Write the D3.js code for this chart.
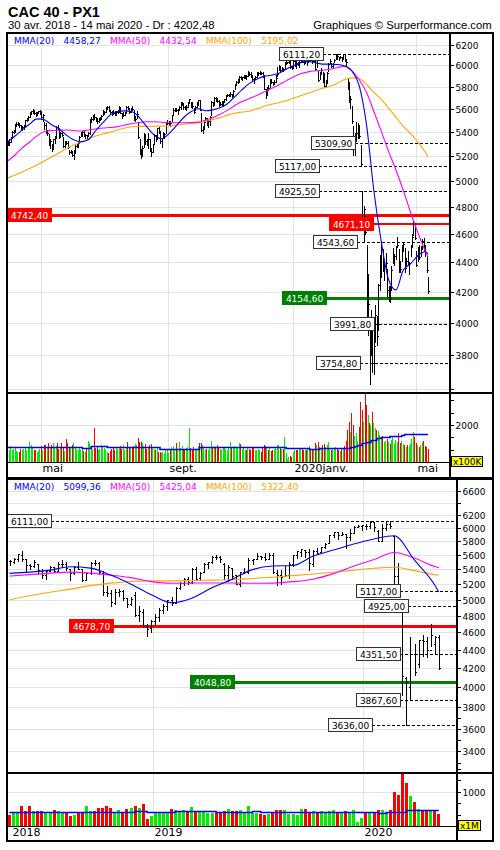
<!DOCTYPE html>
<html lang="fr">
<head>
<meta charset="UTF-8" />
<title>CAC 40 - PX1</title>
<style>
  body { margin: 0; background: #fff; }
  svg { display: block; }
  svg text { font-family: "DejaVu Sans", Verdana, sans-serif; font-size: 9px; }
  svg text.title { font-family: "Liberation Sans", Arial, sans-serif; font-weight: bold; font-size: 14.5px; }
  svg text.sub { font-family: "Liberation Sans", Arial, sans-serif; font-size: 11.3px; }
  svg text.date { font-size: 11px; }
</style>
</head>
<body>
<div id="chart"></div>
<script src="https://cdn.jsdelivr.net/npm/d3@7"></script>
<script>
// ---------- data : daily (top chart) ----------
var holidays = ["2019-04-19","2019-04-22","2019-05-01","2019-12-25","2019-12-26","2020-01-01","2020-04-10","2020-04-13","2020-05-01"];
var lastClose = 4202.48;

var dClose = [5313,5319,5351,
5405,5406,5469,5474,5476,5463,5436,5443,5445,5502,5508,5530,5564,5580,5592,5570,5560,5569,5580,5586,
5528,5548,5465,5395,5398,5313,5327,5262,5341,5352,5448,5438,5358,5392,5379,5281,5317,5312,5272,5231,5240,5208,
5241,5286,5292,5312,5364,5375,5406,5374,5375,5368,5390,5510,5518,5535,5528,5521,5500,5514,5520,5539,
5567,5576,5618,5620,5594,5579,5573,5567,5553,5572,5577,5618,5571,5552,5552,5565,5618,5605,5578,5610,5601,5512,5518,
5557,5359,5241,5234,5267,5388,5327,5310,5345,5251,5237,5300,5373,5344,5435,5406,5327,5351,5386,5386,5480,5480,
5494,5480,5547,5594,5603,5589,5593,5618,5641,5655,5620,5617,5621,5659,5690,5630,5628,5578,5620,5640,5678,
5597,5422,5438,5488,5521,5471,5499,5532,5665,5643,5702,5696,5673,5636,5648,5657,5661,5688,5722,5729,5730,5734,5729,
5762,5816,5849,5855,5892,5889,5891,5906,5907,5901,5939,5923,5910,5878,5871,5893,5926,5926,5937,5930,5905,
5786,5727,5798,5790,5871,5846,5833,5848,5885,5919,5991,5960,5973,5969,6021,6030,6030,6037,5982,5978,
6042,6044,6013,6012,6032,6044,6037,6036,6040,6032,6050,6101,6079,6046,6054,5971,6024,5863,5925,5954,5872,5806,
5832,5927,6016,6039,5999,6016,6055,6105,6094,6069,6085,6057,6111,6063,6030,5792,5679,5688,5495,5310,
5333,5393,5466,5370,5139,4708,4782,4611,4044,4118,3881,3991,3755,3855,4049,3914,4243,4432,4544,4352,4378,4396,
4208,4221,4155,4346,4438,4442,4507,4523,4353,4350,4499,4529,4357,4411,4393,4393,4505,4578,4671,4572,
4378,4483,4433,4501,4550,4490,4472,4345,4202];

var dHigh = [5330,5340,5362,
5412,5418,5475,5484,5488,5480,5465,5450,5460,5508,5520,5538,5572,5584,5600,5595,5578,5575,5588,5590,
5575,5555,5490,5480,5420,5385,5345,5300,5345,5365,5455,5460,5420,5400,5410,5360,5330,5325,5330,5250,5255,5245,
5250,5290,5310,5320,5370,5400,5415,5410,5385,5380,5400,5515,5530,5548,5555,5530,5525,5525,5535,5545,
5590,5585,5622,5628,5625,5595,5585,5595,5580,5580,5590,5625,5615,5570,5575,5575,5625,5630,5615,5615,5625,5590,5540,
5585,5490,5340,5260,5285,5390,5380,5345,5390,5345,5265,5305,5385,5380,5440,5445,5415,5355,5405,5395,5485,5505,
5500,5498,5550,5610,5610,5615,5600,5625,5660,5665,5650,5630,5635,5665,5695,5665,5660,5615,5630,5660,5683,
5685,5570,5455,5495,5530,5525,5505,5540,5670,5665,5710,5710,5700,5685,5665,5675,5670,5695,5725,5740,5740,5750,5740,
5770,5830,5855,5870,5900,5900,5895,5915,5915,5910,5945,5942,5935,5910,5880,5900,5935,5935,5945,5940,5935,
5915,5780,5800,5815,5875,5865,5850,5860,5910,5985,6003,5995,5985,5980,6030,6040,6035,6050,6045,5995,
6050,6050,6030,6035,6040,6060,6065,6045,6055,6045,6060,6105,6100,6080,6075,6045,6045,5945,5935,5975,5935,5925,
5865,5935,6025,6060,6025,6020,6065,6110,6108,6085,6095,6080,6112,6110,6060,5880,5845,5720,5625,5450,
5390,5490,5480,5460,5290,4925,4810,4735,4520,4320,4000,4080,3980,3950,4110,4040,4250,4450,4550,4490,4400,4465,
4350,4240,4240,4370,4500,4460,4510,4575,4490,4410,4520,4545,4500,4430,4480,4400,4520,4600,4700,4680,
4475,4505,4520,4515,4560,4570,4520,4440,4300];

var dLow = [5290,5296,5315,
5352,5390,5405,5455,5462,5448,5425,5420,5430,5448,5496,5505,5530,5555,5570,5560,5540,5548,5565,5560,
5522,5500,5430,5390,5375,5290,5265,5245,5270,5310,5360,5420,5350,5360,5370,5275,5280,5300,5265,5215,5225,5200,
5180,5230,5275,5280,5315,5365,5370,5365,5350,5345,5365,5385,5490,5505,5515,5500,5480,5490,5505,5515,
5545,5555,5575,5605,5580,5565,5545,5560,5545,5550,5565,5575,5565,5525,5540,5545,5565,5600,5570,5575,5590,5505,5500,
5520,5350,5215,5185,5200,5275,5305,5290,5270,5245,5200,5235,5310,5330,5350,5395,5310,5280,5350,5350,5395,5470,
5465,5450,5500,5560,5585,5580,5560,5590,5600,5635,5605,5600,5595,5620,5660,5620,5615,5570,5590,5620,5640,
5590,5415,5395,5430,5490,5460,5445,5460,5550,5630,5640,5670,5660,5625,5640,5640,5630,5660,5680,5715,5715,5720,5705,
5715,5780,5820,5840,5850,5870,5860,5880,5880,5870,5905,5915,5895,5860,5835,5870,5895,5910,5920,5920,5890,
5780,5700,5735,5775,5800,5840,5815,5825,5845,5900,5960,5945,5955,5950,5975,6010,6020,6025,5975,5965,
5985,5995,5980,6005,5985,6030,6030,6015,6020,6005,6030,6060,6065,6020,6040,5960,5985,5855,5870,5920,5845,5800,
5805,5850,5945,6020,5985,5975,6030,6065,6065,6055,6070,6040,6065,6040,6000,5780,5665,5610,5480,5210,
5210,5330,5350,5350,5117,4700,4550,4600,4040,3920,3632,3800,3700,3690,3880,3860,3950,4210,4300,4340,4280,4350,
4165,4140,4130,4210,4395,4380,4420,4505,4330,4330,4410,4480,4330,4375,4380,4320,4445,4515,4590,4560,
4370,4410,4420,4440,4495,4480,4440,4330,4190];

// volume, x100K
var dVol = [1080,1010,1150,
980,1020,1100,950,900,930,1050,990,1040,1120,1000,1090,1330,1180,1060,1000,980,920,960,1050,
1150,1000,1180,1200,1090,1260,1120,1210,1260,1080,1150,1290,1030,1120,1290,1100,940,1435,1260,1120,1060,1180,
1260,1100,1050,980,1090,1010,1080,960,930,1040,1375,1290,1150,1020,1890,1060,1110,990,1040,1180,
1120,1090,1010,920,880,960,1040,1080,990,1110,1050,1130,1160,1040,1210,1000,1090,1330,1120,1060,1100,1160,1240,
1180,1490,1330,1330,1290,1140,1220,1050,1100,1180,1220,1120,1020,980,1090,900,930,880,920,840,1010,1000,
860,1040,1110,1160,980,1260,1040,1300,1090,1160,1050,990,1070,1120,1890,1080,1000,1100,1050,1020,1140,
1290,1260,1200,1090,1010,1050,1000,1060,1375,1090,1150,1130,1190,1060,1030,1000,1080,1110,1040,1000,1120,1330,1070,
1090,1150,1120,1080,1290,1220,1050,1080,1010,1000,1070,1040,990,1080,1100,980,1000,1020,980,900,1060,
1180,1150,1080,1010,1060,950,1000,1040,1120,1200,1180,1060,1020,1030,1500,880,620,700,760,690,
900,980,1010,1000,1050,1020,1040,980,1010,1000,1090,1160,1030,1010,1040,1260,1200,1320,1120,1050,1190,1250,
1100,1180,1320,1050,1000,1040,1060,1100,1030,1010,950,1020,1070,1150,1350,1800,2130,1700,2500,2000,
1550,1660,1350,1930,2940,2600,2130,3280,2800,2400,2070,2000,2540,2070,1870,1800,1750,1600,1500,1550,1300,1350,
1420,1300,1250,1380,1530,1250,1400,1330,1660,1270,1350,1250,1180,1130,1200,1150,1230,1420,1730,1530,
1260,1190,1100,1190,1330,1355,1150,1120,1020];

var volAvg1Dates = ["2019-03-27","2019-06-11","2019-06-19","2019-07-04","2019-08-23","2019-10-01","2019-12-23","2020-01-17","2020-01-28","2020-02-26","2020-03-02","2020-03-04","2020-03-09","2020-03-12","2020-03-17","2020-03-23","2020-03-26","2020-03-30","2020-04-03","2020-04-17","2020-04-21","2020-05-14"];
var volAvg1 = [1126,1086,1153,1099,1045,1099,1059,1032,1072,1099,1150,1193,1260,1327,1400,1462,1500,1529,1569,1596,1636,1636];

// moving averages read every 5 sessions (+ last session)
var ma20d = [5320,5368,5420,5471,5515,5507,5464,5428,5377,5336,
5319,5336,5413,5482,5550,5580,5585,5577,5525,5447,
5377,5344,5386,5455,5525,5577,5604,5586,5594,5612,
5648,5711,5775,5833,5870,5898,5908,5927,5964,5997,
6027,6039,6027,6013,6013,6010,5996,5948,5810,5461,
4922,4547,4281,4211,4344,4388,4444,4472,4458];
var ma50d = [5161,5210,5268,5318,5369,5407,5415,5418,5420,5415,
5411,5420,5428,5437,5441,5448,5462,5475,5483,5490,
5490,5486,5482,5482,5482,5483,5487,5504,5525,5555,
5590,5633,5669,5696,5723,5755,5787,5819,5856,5893,
5922,5940,5950,5955,5964,5979,5993,5950,5866,5750,
5580,5410,5240,5090,4930,4760,4610,4478,4433];
var ma100d = [5024,5048,5072,5100,5129,5161,5194,5227,5264,5293,
5318,5343,5369,5385,5403,5420,5437,5447,5450,5451,
5452,5453,5454,5462,5470,5477,5481,5492,5509,5526,
5548,5565,5575,5582,5604,5626,5644,5657,5675,5698,
5720,5743,5765,5788,5806,5833,5869,5884,5878,5823,
5751,5689,5609,5530,5452,5390,5318,5235,5195];
var legend1 = [4458.27, 4432.54, 5195.02];

var levels1 = [6111.20, 5309.90, 5117.00, 4925.50, 4742.40, 4671.10, 4543.60, 4154.60, 3991.80, 3754.80];
var levels1At = ["2020-01-29","2020-02-28","2020-01-24","2020-01-24",null,"2020-03-17","2020-03-02","2020-01-31","2020-03-18","2020-03-04"];
var levels1Kind = ["dash","dash","dash","dash","red","redThin","dash","green","dash","dash"];

var priceTicks1 = [3600,3800,4000,4200,4400,4600,4800,5000,5200,5400,5600,5800,6000,6200];
var priceNoLabel1 = [3600];
var volTicks1 = [1000,1500,2000,2500,3000];
var monthDays = ["2019-05-02","2019-09-02","2020-01-02","2020-05-04"];
var monthText = ["mai","sept.","2020janv.","mai"];

// ---------- data : weekly (bottom chart) ----------
var wOpen = [5520,5510,5545,5610,5540,5460,5450,5470,5385,5320,5380,5430,5380,5470,5480,5400,5350,5440,5400,5260,
5350,5490,5490,5350,5100,5090,4960,5100,5110,5020,4950,5060,4810,4850,4680,4650,4740,4780,4870,4920,
4990,4960,5150,5220,5270,5230,5400,5280,5360,5475,5500,5580,5570,5480,5320,5420,5320,5200,5370,5370,
5530,5550,5590,5570,5550,5610,5350,5330,5310,5320,5480,5600,5650,5680,5640,5480,5660,5640,5720,5770,
5890,5935,5890,5905,5870,5920,6020,6040,6040,6040,6100,5960,5810,6000,6070,5880,5310,4900,4100,4000,
4350,4240,4510,4500,4400,4470,4550];
var wHigh = [5535,5560,5620,5657,5545,5480,5530,5475,5400,5390,5450,5440,5510,5525,5510,5410,5445,5500,5405,5360,
5500,5530,5510,5380,5180,5120,5140,5140,5120,5020,5040,5100,4915,4880,4695,4750,4820,4890,4940,5000,
5040,5160,5225,5280,5300,5420,5430,5365,5490,5510,5590,5600,5590,5490,5460,5420,5330,5370,5415,5555,
5545,5628,5595,5625,5630,5625,5390,5390,5445,5505,5610,5665,5695,5665,5685,5670,5710,5725,5770,5900,
5945,5942,5945,5915,5985,6030,6050,6050,6065,6105,6100,5975,6060,6110,6111,5880,5490,4925,4110,4550,
4465,4510,4575,4545,4700,4560,4570];
var wLow = [5460,5490,5520,5520,5380,5410,5430,5340,5280,5270,5380,5360,5380,5440,5390,5260,5340,5400,5250,5260,
5340,5460,5340,5060,5050,4915,4950,5050,4990,4910,4930,4800,4740,4670,4555,4600,4700,4740,4830,4870,
4930,4960,5140,5190,5210,5220,5260,5260,5360,5420,5495,5540,5500,5265,5245,5275,5200,5180,5345,5345,
5480,5545,5545,5525,5545,5350,5185,5200,5310,5280,5450,5560,5595,5570,5395,5445,5625,5630,5705,5780,
5860,5835,5890,5700,5815,5945,6010,5965,5980,6005,5960,5800,5805,5975,6000,5210,5117,3920,3636,3868,
4130,4210,4330,4320,4445,4370,4190];
var wClose = [5516,5542,5614,5542,5465,5450,5502,5388,5324,5375,5429,5382,5474,5478,5415,5345,5433,5406,5253,5352,
5494,5493,5359,5095,5084,4967,5102,5107,5025,4947,5003,4813,4853,4680,4640,4737,4781,4876,4925,4990,
4961,5153,5215,5265,5231,5405,5269,5351,5476,5502,5580,5569,5548,5327,5438,5317,5208,5364,5368,5528,
5539,5594,5572,5552,5610,5359,5327,5300,5327,5480,5603,5655,5690,5640,5488,5665,5636,5722,5762,5889,
5939,5893,5905,5871,5919,6021,6037,6044,6037,6101,6024,5806,5999,6069,6030,5310,5139,4118,4049,4352,
4155,4507,4499,4393,4572,4550,4202];
// volume, x1M
var wVol = [493,565,565,689,580,689,580,580,580,552,552,602,580,552,552,478,493,552,552,689,
580,580,652,652,689,652,565,602,552,630,652,700,652,733,406,478,565,565,552,552,
630,602,565,602,565,660,565,565,565,530,530,530,530,580,630,580,580,602,530,689,
530,530,515,493,515,545,602,602,602,515,515,493,630,630,552,580,552,580,552,580,
602,552,530,580,530,602,348,420,530,545,530,602,602,565,602,1000,928,1400,1196,913,
783,630,602,580,580,580,515];
var volAvg2Weeks = ["2018-04-30","2018-12-03","2018-12-24","2019-02-11","2019-04-22","2019-06-24","2019-07-08","2020-01-27","2020-02-10","2020-03-16","2020-05-11"];
var volAvg2 = [552,580,552,580,552,580,552,530,565,602,602];

// moving averages read every 5 weeks (+ last week)
var ma20w = [5347,5363,5391,5437,5419,5323,5201,5064,4962,5019,5155,5268,5398,5447,5454,5588,5674,5762,5836,5885,5530,5190,5099];
var ma50w = [5309,5329,5350,5363,5350,5323,5289,5235,5213,5216,5218,5218,5213,5216,5235,5268,5343,5447,5538,5638,5559,5440,5425];
var ma100w = [5000,5051,5096,5136,5182,5216,5238,5245,5246,5251,5256,5261,5278,5295,5316,5339,5363,5391,5416,5430,5384,5329,5322];
var legend2 = [5099.36, 5425.04, 5322.40];

var levels2 = [6111.00, 5117.00, 4925.00, 4678.70, 4351.50, 4048.80, 3867.60, 3636.00];
var levels2At = [null,"2020-03-02","2020-03-16","2018-10-22","2020-03-02","2019-05-20","2020-03-02","2020-01-13"];
var levels2Kind = ["dash","dash","dash","red","dash","green","dash","dash"];

var priceTicks2 = [3400,3600,3800,4000,4200,4400,4600,4800,5000,5200,5400,5600,5800,6000,6200,6400,6600];
var priceNoLabel2 = [6400];
var priceMinor2 = [3300,3500,3700];
var volTicks2 = [500,750,1000,1250,1500];
var yearWeeks = ["2018-04-30","2018-12-31","2019-12-30"];
var yearText = ["2018","2019","2020"];

// ---------- calendars ----------
var fmtDay = d3.timeFormat("%Y-%m-%d");
var days = d3.timeDay.range(new Date(2019, 2, 27), new Date(2020, 4, 15))
  .filter(function(d) { var w = d.getDay(); return w > 0 && w < 6; })
  .map(fmtDay)
  .filter(function(s) { return holidays.indexOf(s) < 0; });
var weeks = d3.timeMonday.range(new Date(2018, 3, 30), new Date(2020, 4, 12)).map(fmtDay);

// ---------- layout ----------
var cBlue = "#0000ff", cMag = "#ff00ff", cOrange = "#ffa500";
var cUp = "#00ee00", cDown = "#ff0000", cRed = "#ff0000", cGreen = "#008000", cGrid = "#e3e3e3";
var PL = 7, FR = 493;

var svg = d3.select("#chart").append("svg").attr("width", 500).attr("height", 850);
var defs = svg.append("defs");

function frNum(v) { return d3.format(".2f")(v).replace(".", ","); }

svg.append("text").attr("class", "title").attr("x", 8).attr("y", 17.3).text("CAC 40 - PX1");
svg.append("text").attr("class", "sub").attr("x", 8).attr("y", 29.3)
  .text("30 avr. 2018 - 14 mai 2020 - Dr : " + frNum(lastClose));
svg.append("text").attr("class", "sub").attr("x", 491.7).attr("y", 29.3).attr("text-anchor", "end")
  .text("Graphiques \u00a9 Surperformance.com");

function drawPanel(o) {
  var x = o.x, y = o.y, yv = o.yv, step = x.step();

  defs.append("clipPath").attr("id", o.clipId).append("rect")
    .attr("x", PL).attr("y", o.top).attr("width", o.axisX - PL).attr("height", o.priceBottom - o.top);

  // grid
  var grid = svg.append("g").attr("stroke", cGrid).attr("shape-rendering", "crispEdges");
  o.ticks.forEach(function(t) {
    var yy = Math.round(y(t)) + 0.5;
    if (yy < o.top + 2 || yy > o.priceBottom - 1) return;
    grid.append("line").attr("x1", PL).attr("x2", o.axisX).attr("y1", yy).attr("y2", yy);
  });
  var yg = Math.round(yv(o.volLabel)) + 0.5;
  grid.append("line").attr("x1", PL).attr("x2", o.axisX).attr("y1", yg).attr("y2", yg);
  o.gridKeys.forEach(function(k) {
    var xx = Math.round(x(k) + o.gridShift * step) + 0.5;
    grid.append("line").attr("x1", xx).attr("x2", xx).attr("y1", o.top).attr("y2", o.volBottom);
  });

  // level boxes (measure first)
  var meas = svg.append("text").text("");
  var boxes = o.levels.map(function(v, i) {
    var txt = frNum(v);
    meas.text(txt);
    var bw = Math.round(meas.node().getComputedTextLength()) + 7;
    var a = o.levelsAt[i];
    var bx = a ? Math.round(x(a)) + 2 - bw : PL;
    return {x: bx, w: bw, y: Math.round(y(v)), txt: txt, kind: o.levelsKind[i]};
  });
  meas.remove();

  var lv = svg.append("g").attr("shape-rendering", "crispEdges");
  boxes.forEach(function(b) {
    var ln = lv.append("line").attr("x1", b.x + b.w).attr("x2", o.axisX);
    if (b.kind === "dash") {
      ln.attr("y1", b.y + 0.5).attr("y2", b.y + 0.5).attr("stroke", "#000").attr("stroke-dasharray", "3,2");
    } else if (b.kind === "redThin") {
      ln.attr("y1", b.y).attr("y2", b.y).attr("stroke", cRed).attr("stroke-width", 2);
    } else {
      ln.attr("y1", b.y + 0.5).attr("y2", b.y + 0.5).attr("stroke", b.kind === "green" ? cGreen : cRed).attr("stroke-width", 3);
    }
  });

  // OHLC bars
  var bars = svg.append("g").attr("clip-path", "url(#" + o.clipId + ")")
    .attr("stroke", "#000").attr("shape-rendering", "crispEdges");
  o.keys.forEach(function(k, i) {
    var xx = Math.round(x(k)) + 0.5;
    bars.append("line").attr("x1", xx).attr("x2", xx)
      .attr("y1", Math.round(y(o.high[i]))).attr("y2", Math.round(y(o.low[i])) + 1);
    var yc = Math.round(y(o.close[i])) + 0.5;
    bars.append("line").attr("x1", xx).attr("x2", xx + o.tick).attr("y1", yc).attr("y2", yc);
    if (o.open) {
      var yo = Math.round(y(o.open[i])) + 0.5;
      bars.append("line").attr("x1", xx - o.tick).attr("x2", xx).attr("y1", yo).attr("y2", yo);
    }
  });

  // moving averages
  var mg = svg.append("g").attr("clip-path", "url(#" + o.clipId + ")").attr("fill", "none");
  [[o.ma100, cOrange], [o.ma50, cMag], [o.ma20, cBlue]].forEach(function(m) {
    var line = d3.line()
      .x(function(d, j) { return x(o.keys[o.maAt[j]]); })
      .y(function(d) { return y(d); })
      .curve(d3.curveMonotoneX);
    mg.append("path").attr("d", line(m[0])).attr("stroke", m[1]).attr("stroke-width", 1.1);
  });

  // volume
  var vb = svg.append("g").attr("shape-rendering", "crispEdges");
  o.keys.forEach(function(k, i) {
    var ref = i === 0 ? (o.open ? o.open[0] : o.close[0]) : o.close[i - 1];
    var top = Math.round(yv(o.vol[i]));
    vb.append("rect")
      .attr("x", Math.round(x(k) - o.volW / 2 + 0.01)).attr("y", top)
      .attr("width", o.volW).attr("height", Math.max(0, o.volBottom - top))
      .attr("fill", o.close[i] >= ref ? cUp : cDown);
  });
  var va = d3.line()
    .x(function(d, j) { return x(o.volAvgKeys[j]); })
    .y(function(d) { return Math.round(yv(d)) + 0.5; })
    .curve(d3.curveStepAfter);
  svg.append("path").attr("d", va(o.volAvg)).attr("fill", "none").attr("stroke", cBlue).attr("stroke-width", 1.6);

  // level boxes
  boxes.forEach(function(b) {
    var plain = b.kind === "dash";
    var fill = plain ? "#fff" : (b.kind === "green" ? cGreen : cRed);
    svg.append("rect").attr("x", b.x + 0.5).attr("y", b.y - 6.5).attr("width", b.w).attr("height", 13)
      .attr("fill", fill).attr("stroke", plain ? "#333" : fill).attr("shape-rendering", "crispEdges");
    svg.append("text").attr("x", b.x + 0.5 + b.w / 2).attr("y", b.y + 3.6).attr("text-anchor", "middle")
      .attr("fill", plain ? "#000" : "#fff").text(b.txt);
  });

  // frame
  var fg = svg.append("g").attr("stroke", "#000").attr("fill", "none").attr("shape-rendering", "crispEdges");
  fg.append("rect").attr("x", PL).attr("y", o.top).attr("width", FR - PL).attr("height", o.bottom - o.top).attr("stroke-width", 1.5);
  fg.append("line").attr("x1", PL).attr("x2", FR).attr("y1", o.priceBottom).attr("y2", o.priceBottom).attr("stroke-width", 2);
  fg.append("line").attr("x1", PL).attr("x2", o.axisX).attr("y1", o.volBottom + 0.5).attr("y2", o.volBottom + 0.5);
  fg.append("line").attr("x1", o.axisX).attr("x2", o.axisX).attr("y1", o.top).attr("y2", o.bottom).attr("stroke-width", 1.5);

  // price axis
  var ax = svg.append("g").attr("stroke", "#000").attr("shape-rendering", "crispEdges");
  o.ticks.concat(o.minor).forEach(function(t) {
    var yy = Math.round(y(t)) + 0.5;
    ax.append("line").attr("x1", o.axisX).attr("x2", o.axisX + 4).attr("y1", yy).attr("y2", yy);
    if (o.minor.indexOf(t) < 0 && o.noLabel.indexOf(t) < 0) {
      svg.append("text").attr("x", o.axisX + 5.5).attr("y", yy + 3.2).text(t);
    }
  });

  // volume axis
  o.volTicks.forEach(function(t) {
    var yy = Math.round(yv(t)) + 0.5;
    ax.append("line").attr("x1", o.axisX).attr("x2", o.axisX + 4).attr("y1", yy).attr("y2", yy);
    if (t === o.volLabel) svg.append("text").attr("x", o.axisX + 5.5).attr("y", yy + 3.2).text(t);
  });
  var ut = svg.append("text").attr("x", 0).attr("y", 0).text(o.volUnit);
  var uw = ut.node().getComputedTextLength();
  svg.insert("rect", "text:last-of-type")
    .attr("x", o.axisX + 1.5).attr("y", o.volBottom - 5.5).attr("width", Math.round(uw) + 3).attr("height", 10)
    .attr("fill", "#ffff00").attr("stroke", "#000").attr("shape-rendering", "crispEdges");
  ut.raise().attr("x", o.axisX + 3).attr("y", o.volBottom + 2.8);

  // time labels
  o.dateKeys.forEach(function(k, i) {
    var xx = Math.round(x(k) + o.gridShift * step) + 1.5;
    svg.append("text").attr("class", "date").attr("x", xx).attr("y", o.dateY).text(o.dateText[i]);
  });

  // legend
  var lx = 14;
  [["MMA(20)", cBlue], [frNum(o.legend[0]), cBlue], ["MMA(50)", cMag], [frNum(o.legend[1]), cMag],
   ["MMA(100)", cOrange], [frNum(o.legend[2]), cOrange]].forEach(function(p) {
    var t = svg.append("text").attr("x", lx).attr("y", o.legendY).attr("fill", p[1]).text(p[0]);
    lx += t.node().getComputedTextLength() + 9.3;
  });
}

var x1 = d3.scalePoint().domain(days).range([7.7, 7.7 + 1.4648 * (days.length - 1)]);
var x2 = d3.scalePoint().domain(weeks).range([9.5, 9.5 + 4.05 * (weeks.length - 1)]);

drawPanel({
  clipId: "cp1", x: x1, keys: days,
  y: d3.scaleLog().domain([6315.5, 3579]).range([33, 393]),
  yv: d3.scaleLinear().domain([0, 2000]).range([474.6, 425]),
  top: 33, priceBottom: 393, volBottom: 462, bottom: 478, axisX: 450,
  high: dHigh, low: dLow, close: dClose, open: null, tick: 1,
  vol: dVol, volW: 1, volAvgKeys: volAvg1Dates, volAvg: volAvg1,
  maAt: d3.range(0, days.length, 5).concat([days.length - 1]),
  ma20: ma20d, ma50: ma50d, ma100: ma100d, legend: legend1, legendY: 44.3,
  ticks: priceTicks1, noLabel: priceNoLabel1, minor: [],
  volTicks: volTicks1, volLabel: 2000, volUnit: "x100K",
  gridKeys: monthDays, gridShift: -0.5, dateKeys: monthDays, dateText: monthText, dateY: 472,
  levels: levels1, levelsAt: levels1At, levelsKind: levels1Kind
});

drawPanel({
  clipId: "cp2", x: x2, keys: weeks,
  y: d3.scaleLog().domain([6800, 3215]).range([479, 773]),
  yv: d3.scaleLinear().domain([0, 1000]).range([837.7, 791.7]),
  top: 479, priceBottom: 773, volBottom: 826, bottom: 841, axisX: 457,
  high: wHigh, low: wLow, close: wClose, open: wOpen, tick: 1.5,
  vol: wVol, volW: 3, volAvgKeys: volAvg2Weeks, volAvg: volAvg2,
  maAt: d3.range(0, weeks.length, 5).concat([weeks.length - 1]),
  ma20: ma20w, ma50: ma50w, ma100: ma100w, legend: legend2, legendY: 490,
  ticks: priceTicks2, noLabel: priceNoLabel2, minor: priceMinor2,
  volTicks: volTicks2, volLabel: 1000, volUnit: "x1M",
  gridKeys: yearWeeks.slice(1), gridShift: 0.37, dateKeys: yearWeeks, dateText: yearText, dateY: 836,
  levels: levels2, levelsAt: levels2At, levelsKind: levels2Kind
});
</script>
</body>
</html>
